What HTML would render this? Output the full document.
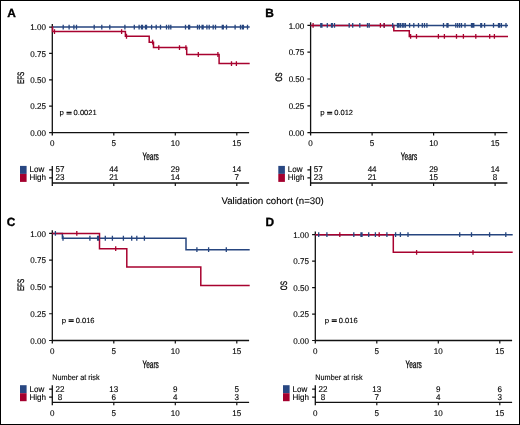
<!DOCTYPE html>
<html><head><meta charset="utf-8"><style>
html,body{margin:0;padding:0;background:#fff;}
body{width:520px;height:425px;overflow:hidden;}
svg{display:block;will-change:transform;}
text{text-rendering:geometricPrecision;font-family:"Liberation Sans", sans-serif;fill:#000;stroke:#000;stroke-width:0.12px;}
.lt{font-size:11.9px;font-weight:bold;fill:#000;stroke:#000;stroke-width:0.35px;}
</style></head><body>
<svg width="520" height="425" viewBox="0 0 520 425">
<rect x="0.5" y="0.5" width="519" height="424" fill="#fff" stroke="#000" stroke-width="1"/>
<path d="M52.3 23.95V135.6M51.699999999999996 132.6H249.10000000000002" stroke="#111" stroke-width="1.3" fill="none"/>
<path d="M49.099999999999994 132.60H52.3M49.099999999999994 106.21H52.3M49.099999999999994 79.82H52.3M49.099999999999994 53.44H52.3M49.099999999999994 27.05H52.3M113.80 132.6V135.6M175.30 132.6V135.6M236.80 132.6V135.6" stroke="#111" stroke-width="1.2" fill="none"/>
<text transform="translate(46.00,135.70) scale(0.97,1)" font-size="8.3" text-anchor="end">0.00</text>
<text transform="translate(46.00,109.31) scale(0.97,1)" font-size="8.3" text-anchor="end">0.25</text>
<text transform="translate(46.00,82.92) scale(0.97,1)" font-size="8.3" text-anchor="end">0.50</text>
<text transform="translate(46.00,56.54) scale(0.97,1)" font-size="8.3" text-anchor="end">0.75</text>
<text transform="translate(46.00,30.15) scale(0.97,1)" font-size="8.3" text-anchor="end">1.00</text>
<text transform="translate(52.30,145.80) scale(0.97,1)" font-size="8.3" text-anchor="middle">0</text>
<text transform="translate(113.80,145.80) scale(0.97,1)" font-size="8.3" text-anchor="middle">5</text>
<text transform="translate(175.30,145.80) scale(0.97,1)" font-size="8.3" text-anchor="middle">10</text>
<text transform="translate(236.80,145.80) scale(0.97,1)" font-size="8.3" text-anchor="middle">15</text>
<text transform="translate(150.70,159.60) scale(0.6,1)" font-size="10.8" text-anchor="middle" style="stroke-width:0.3px">Years</text>
<text transform="translate(24.10,77.83) rotate(-90) scale(0.68,1)" text-anchor="middle" font-size="9.3" style="stroke-width:0.3px">EFS</text>
<text x="7.2" y="17.4" class="lt">A</text>
<text transform="translate(59.60,115.40) scale(1.07,1)" font-size="7.4">p</text>
<path d="M66.50 112.35H71.60M66.50 113.95H71.60" stroke="#111" stroke-width="1.05" fill="none"/>
<text transform="translate(73.60,115.40) scale(1.02,1)" font-size="7.4">0.0021</text>
<path d="M52.3 27.05H249.70" stroke="#26457f" stroke-width="1.5" fill="none"/>
<path d="M52.3 27.05H52.60V31.62H125.40V36.23H149.20V42.14H153.50V47.53H186.70V54.49H219.10V63.57H249.70" stroke="#a8022f" stroke-width="1.5" fill="none"/>
<path d="M63.20 24.65v4.8M69.10 24.65v4.8M73.90 24.65v4.8M76.50 24.65v4.8M94.20 24.65v4.8M101.80 24.65v4.8M109.80 24.65v4.8M124.90 24.65v4.8M134.30 24.65v4.8M139.10 24.65v4.8M141.50 24.65v4.8M142.50 24.65v4.8M145.50 24.65v4.8M146.50 24.65v4.8M151.60 24.65v4.8M156.20 24.65v4.8M160.50 24.65v4.8M166.50 24.65v4.8M168.80 24.65v4.8M170.80 24.65v4.8M185.50 24.65v4.8M188.60 24.65v4.8M189.60 24.65v4.8M197.50 24.65v4.8M199.40 24.65v4.8M202.10 24.65v4.8M203.10 24.65v4.8M206.90 24.65v4.8M209.20 24.65v4.8M213.20 24.65v4.8M215.50 24.65v4.8M222.30 24.65v4.8M223.30 24.65v4.8M226.50 24.65v4.8M235.10 24.65v4.8M240.50 24.65v4.8M242.40 24.65v4.8M243.40 24.65v4.8M247.50 24.65v4.8" stroke="#26457f" stroke-width="1.3" fill="none"/>
<path d="M54.50 29.22v4.8M121.60 29.22v4.8M126.50 33.83v4.8M152.60 39.74v4.8M158.80 45.13v4.8M179.50 45.13v4.8M185.90 45.13v4.8M198.30 52.09v4.8M217.90 52.09v4.8M231.50 61.17v4.8M236.40 61.17v4.8" stroke="#a8022f" stroke-width="1.3" fill="none"/>
<path d="M52.3 166.0V186.0M51.699999999999996 183.0H249.10" stroke="#111" stroke-width="1.3" fill="none"/>
<path d="M49.099999999999994 169.8H52.3M49.099999999999994 177.9H52.3M113.80 183.0V186.0M175.30 183.0V186.0M236.80 183.0V186.0" stroke="#111" stroke-width="1.2" fill="none"/>
<rect x="20.00" y="165.90" width="6.6" height="8" fill="#284782"/>
<rect x="20.00" y="173.90" width="6.6" height="8" fill="#a4002e"/>
<text transform="translate(29.50,172.30) scale(0.97,1)" font-size="8.3">Low</text>
<text transform="translate(29.50,180.20) scale(0.97,1)" font-size="8.3">High</text>
<text transform="translate(60.00,172.30) scale(0.97,1)" font-size="8.3" text-anchor="middle">57</text>
<text transform="translate(60.00,180.20) scale(0.97,1)" font-size="8.3" text-anchor="middle">23</text>
<text transform="translate(113.80,172.30) scale(0.97,1)" font-size="8.3" text-anchor="middle">44</text>
<text transform="translate(113.80,180.20) scale(0.97,1)" font-size="8.3" text-anchor="middle">21</text>
<text transform="translate(175.30,172.30) scale(0.97,1)" font-size="8.3" text-anchor="middle">29</text>
<text transform="translate(175.30,180.20) scale(0.97,1)" font-size="8.3" text-anchor="middle">14</text>
<text transform="translate(236.80,172.30) scale(0.97,1)" font-size="8.3" text-anchor="middle">14</text>
<text transform="translate(236.80,180.20) scale(0.97,1)" font-size="8.3" text-anchor="middle">7</text>
<path d="M310.6 22.299999999999997V135.6M310.0 132.6H507.40000000000003" stroke="#111" stroke-width="1.3" fill="none"/>
<path d="M307.40000000000003 132.60H310.6M307.40000000000003 105.80H310.6M307.40000000000003 79.00H310.6M307.40000000000003 52.20H310.6M307.40000000000003 25.40H310.6M372.10 132.6V135.6M433.60 132.6V135.6M495.10 132.6V135.6" stroke="#111" stroke-width="1.2" fill="none"/>
<text transform="translate(304.30,135.70) scale(0.97,1)" font-size="8.3" text-anchor="end">0.00</text>
<text transform="translate(304.30,108.90) scale(0.97,1)" font-size="8.3" text-anchor="end">0.25</text>
<text transform="translate(304.30,82.10) scale(0.97,1)" font-size="8.3" text-anchor="end">0.50</text>
<text transform="translate(304.30,55.30) scale(0.97,1)" font-size="8.3" text-anchor="end">0.75</text>
<text transform="translate(304.30,28.50) scale(0.97,1)" font-size="8.3" text-anchor="end">1.00</text>
<text transform="translate(310.60,145.80) scale(0.97,1)" font-size="8.3" text-anchor="middle">0</text>
<text transform="translate(372.10,145.80) scale(0.97,1)" font-size="8.3" text-anchor="middle">5</text>
<text transform="translate(433.60,145.80) scale(0.97,1)" font-size="8.3" text-anchor="middle">10</text>
<text transform="translate(495.10,145.80) scale(0.97,1)" font-size="8.3" text-anchor="middle">15</text>
<text transform="translate(409.00,159.60) scale(0.6,1)" font-size="10.8" text-anchor="middle" style="stroke-width:0.3px">Years</text>
<text transform="translate(282.40,77.00) rotate(-90) scale(0.68,1)" text-anchor="middle" font-size="9.3" style="stroke-width:0.3px">OS</text>
<text x="265.3" y="17.2" class="lt">B</text>
<text transform="translate(320.20,115.40) scale(1.07,1)" font-size="7.4">p</text>
<path d="M327.10 112.35H332.20M327.10 113.95H332.20" stroke="#111" stroke-width="1.05" fill="none"/>
<text transform="translate(334.20,115.40) scale(1.02,1)" font-size="7.4">0.012</text>
<path d="M310.6 25.40H508.00" stroke="#26457f" stroke-width="1.5" fill="none"/>
<path d="M310.6 25.40H393.80V30.65H409.30V36.44H508.00" stroke="#a8022f" stroke-width="1.5" fill="none"/>
<path d="M320.80 23.00v4.8M321.90 23.00v4.8M327.30 23.00v4.8M331.50 23.00v4.8M332.30 23.00v4.8M334.50 23.00v4.8M349.20 23.00v4.8M352.70 23.00v4.8M359.80 23.00v4.8M367.50 23.00v4.8M369.20 23.00v4.8M384.20 23.00v4.8M392.70 23.00v4.8M397.50 23.00v4.8M398.80 23.00v4.8M400.40 23.00v4.8M402.30 23.00v4.8M403.80 23.00v4.8M405.40 23.00v4.8M409.60 23.00v4.8M413.80 23.00v4.8M418.50 23.00v4.8M422.30 23.00v4.8M424.50 23.00v4.8M426.90 23.00v4.8M443.50 23.00v4.8M447.00 23.00v4.8M448.00 23.00v4.8M455.80 23.00v4.8M457.70 23.00v4.8M459.60 23.00v4.8M461.50 23.00v4.8M465.00 23.00v4.8M471.50 23.00v4.8M472.70 23.00v4.8M473.80 23.00v4.8M480.80 23.00v4.8M481.60 23.00v4.8M484.60 23.00v4.8M493.50 23.00v4.8M498.50 23.00v4.8M499.60 23.00v4.8M501.40 23.00v4.8M506.00 23.00v4.8" stroke="#26457f" stroke-width="1.3" fill="none"/>
<path d="M313.10 23.00v4.8M380.40 23.00v4.8M384.20 23.00v4.8M410.60 34.04v4.8M416.50 34.04v4.8M438.40 34.04v4.8M444.40 34.04v4.8M456.50 34.04v4.8M463.40 34.04v4.8M475.80 34.04v4.8M489.70 34.04v4.8M494.40 34.04v4.8" stroke="#a8022f" stroke-width="1.3" fill="none"/>
<path d="M310.6 166.0V186.0M310.0 183.0H507.40" stroke="#111" stroke-width="1.3" fill="none"/>
<path d="M307.40000000000003 169.8H310.6M307.40000000000003 177.9H310.6M372.10 183.0V186.0M433.60 183.0V186.0M495.10 183.0V186.0" stroke="#111" stroke-width="1.2" fill="none"/>
<rect x="278.30" y="165.90" width="6.6" height="8" fill="#284782"/>
<rect x="278.30" y="173.90" width="6.6" height="8" fill="#a4002e"/>
<text transform="translate(287.80,172.30) scale(0.97,1)" font-size="8.3">Low</text>
<text transform="translate(287.80,180.20) scale(0.97,1)" font-size="8.3">High</text>
<text transform="translate(318.30,172.30) scale(0.97,1)" font-size="8.3" text-anchor="middle">57</text>
<text transform="translate(318.30,180.20) scale(0.97,1)" font-size="8.3" text-anchor="middle">23</text>
<text transform="translate(372.10,172.30) scale(0.97,1)" font-size="8.3" text-anchor="middle">44</text>
<text transform="translate(372.10,180.20) scale(0.97,1)" font-size="8.3" text-anchor="middle">21</text>
<text transform="translate(433.60,172.30) scale(0.97,1)" font-size="8.3" text-anchor="middle">29</text>
<text transform="translate(433.60,180.20) scale(0.97,1)" font-size="8.3" text-anchor="middle">15</text>
<text transform="translate(495.10,172.30) scale(0.97,1)" font-size="8.3" text-anchor="middle">14</text>
<text transform="translate(495.10,180.20) scale(0.97,1)" font-size="8.3" text-anchor="middle">8</text>
<path d="M52.3 230.3V343.5M51.699999999999996 340.5H249.10000000000002" stroke="#111" stroke-width="1.3" fill="none"/>
<path d="M49.099999999999994 340.50H52.3M49.099999999999994 313.73H52.3M49.099999999999994 286.95H52.3M49.099999999999994 260.18H52.3M49.099999999999994 233.40H52.3M113.80 340.5V343.5M175.30 340.5V343.5M236.80 340.5V343.5" stroke="#111" stroke-width="1.2" fill="none"/>
<text transform="translate(46.00,343.60) scale(0.97,1)" font-size="8.3" text-anchor="end">0.00</text>
<text transform="translate(46.00,316.83) scale(0.97,1)" font-size="8.3" text-anchor="end">0.25</text>
<text transform="translate(46.00,290.05) scale(0.97,1)" font-size="8.3" text-anchor="end">0.50</text>
<text transform="translate(46.00,263.28) scale(0.97,1)" font-size="8.3" text-anchor="end">0.75</text>
<text transform="translate(46.00,236.50) scale(0.97,1)" font-size="8.3" text-anchor="end">1.00</text>
<text transform="translate(52.30,353.70) scale(0.97,1)" font-size="8.3" text-anchor="middle">0</text>
<text transform="translate(113.80,353.70) scale(0.97,1)" font-size="8.3" text-anchor="middle">5</text>
<text transform="translate(175.30,353.70) scale(0.97,1)" font-size="8.3" text-anchor="middle">10</text>
<text transform="translate(236.80,353.70) scale(0.97,1)" font-size="8.3" text-anchor="middle">15</text>
<text transform="translate(150.70,367.50) scale(0.6,1)" font-size="10.8" text-anchor="middle" style="stroke-width:0.3px">Years</text>
<text transform="translate(24.10,284.95) rotate(-90) scale(0.68,1)" text-anchor="middle" font-size="9.3" style="stroke-width:0.3px">EFS</text>
<text x="6.8" y="226.3" class="lt">C</text>
<text transform="translate(61.70,322.90) scale(1.07,1)" font-size="7.4">p</text>
<path d="M68.60 319.85H73.70M68.60 321.45H73.70" stroke="#111" stroke-width="1.05" fill="none"/>
<text transform="translate(75.70,322.90) scale(1.02,1)" font-size="7.4">0.016</text>
<path d="M52.3 233.40H62.40V238.27H186.00V249.63H249.70" stroke="#26457f" stroke-width="1.5" fill="none"/>
<path d="M52.3 233.40H99.50V248.72H126.80V267.03H200.80V285.45H249.70" stroke="#a8022f" stroke-width="1.5" fill="none"/>
<path d="M55.40 231.00v4.8M63.00 235.87v4.8M89.90 235.87v4.8M97.60 235.87v4.8M98.60 235.87v4.8M105.30 235.87v4.8M112.40 235.87v4.8M123.40 235.87v4.8M131.70 235.87v4.8M136.80 235.87v4.8M144.40 235.87v4.8M196.90 247.23v4.8M208.60 247.23v4.8M226.30 247.23v4.8" stroke="#26457f" stroke-width="1.3" fill="none"/>
<path d="M76.80 231.00v4.8M115.70 246.32v4.8" stroke="#a8022f" stroke-width="1.3" fill="none"/>
<path d="M52.3 385.3V405.3M51.699999999999996 402.3H249.10" stroke="#111" stroke-width="1.3" fill="none"/>
<path d="M49.099999999999994 389.1H52.3M49.099999999999994 397.2H52.3M113.80 402.3V405.3M175.30 402.3V405.3M236.80 402.3V405.3" stroke="#111" stroke-width="1.2" fill="none"/>
<rect x="20.00" y="385.20" width="6.6" height="8" fill="#284782"/>
<rect x="20.00" y="393.20" width="6.6" height="8" fill="#a4002e"/>
<text transform="translate(29.50,391.60) scale(0.97,1)" font-size="8.3">Low</text>
<text transform="translate(29.50,399.50) scale(0.97,1)" font-size="8.3">High</text>
<text transform="translate(60.00,391.60) scale(0.97,1)" font-size="8.3" text-anchor="middle">22</text>
<text transform="translate(60.00,399.50) scale(0.97,1)" font-size="8.3" text-anchor="middle">8</text>
<text transform="translate(113.80,391.60) scale(0.97,1)" font-size="8.3" text-anchor="middle">13</text>
<text transform="translate(113.80,399.50) scale(0.97,1)" font-size="8.3" text-anchor="middle">6</text>
<text transform="translate(175.30,391.60) scale(0.97,1)" font-size="8.3" text-anchor="middle">9</text>
<text transform="translate(175.30,399.50) scale(0.97,1)" font-size="8.3" text-anchor="middle">4</text>
<text transform="translate(236.80,391.60) scale(0.97,1)" font-size="8.3" text-anchor="middle">5</text>
<text transform="translate(236.80,399.50) scale(0.97,1)" font-size="8.3" text-anchor="middle">3</text>
<text transform="translate(52.30,415.50) scale(0.97,1)" font-size="8.3" text-anchor="middle">0</text>
<text transform="translate(113.80,415.50) scale(0.97,1)" font-size="8.3" text-anchor="middle">5</text>
<text transform="translate(175.30,415.50) scale(0.97,1)" font-size="8.3" text-anchor="middle">10</text>
<text transform="translate(236.80,415.50) scale(0.97,1)" font-size="8.3" text-anchor="middle">15</text>
<text transform="translate(52.30,380.10) scale(0.91,1)" font-size="8.0">Number at risk</text>
<path d="M315.3 231.6V343.5M314.7 340.5H512.1" stroke="#111" stroke-width="1.3" fill="none"/>
<path d="M312.1 340.50H315.3M312.1 314.05H315.3M312.1 287.60H315.3M312.1 261.15H315.3M312.1 234.70H315.3M376.80 340.5V343.5M438.30 340.5V343.5M499.80 340.5V343.5" stroke="#111" stroke-width="1.2" fill="none"/>
<text transform="translate(309.00,343.60) scale(0.97,1)" font-size="8.3" text-anchor="end">0.00</text>
<text transform="translate(309.00,317.15) scale(0.97,1)" font-size="8.3" text-anchor="end">0.25</text>
<text transform="translate(309.00,290.70) scale(0.97,1)" font-size="8.3" text-anchor="end">0.50</text>
<text transform="translate(309.00,264.25) scale(0.97,1)" font-size="8.3" text-anchor="end">0.75</text>
<text transform="translate(309.00,237.80) scale(0.97,1)" font-size="8.3" text-anchor="end">1.00</text>
<text transform="translate(315.30,353.70) scale(0.97,1)" font-size="8.3" text-anchor="middle">0</text>
<text transform="translate(376.80,353.70) scale(0.97,1)" font-size="8.3" text-anchor="middle">5</text>
<text transform="translate(438.30,353.70) scale(0.97,1)" font-size="8.3" text-anchor="middle">10</text>
<text transform="translate(499.80,353.70) scale(0.97,1)" font-size="8.3" text-anchor="middle">15</text>
<text transform="translate(413.70,367.50) scale(0.6,1)" font-size="10.8" text-anchor="middle" style="stroke-width:0.3px">Years</text>
<text transform="translate(287.10,285.60) rotate(-90) scale(0.68,1)" text-anchor="middle" font-size="9.3" style="stroke-width:0.3px">OS</text>
<text x="265.6" y="226.2" class="lt">D</text>
<text transform="translate(324.80,322.90) scale(1.07,1)" font-size="7.4">p</text>
<path d="M331.70 319.85H336.80M331.70 321.45H336.80" stroke="#111" stroke-width="1.05" fill="none"/>
<text transform="translate(338.80,322.90) scale(1.02,1)" font-size="7.4">0.016</text>
<path d="M315.3 234.70H512.70" stroke="#26457f" stroke-width="1.5" fill="none"/>
<path d="M315.3 234.70H393.30V252.37H512.70" stroke="#a8022f" stroke-width="1.5" fill="none"/>
<path d="M318.70 232.30v4.8M326.90 232.30v4.8M353.80 232.30v4.8M361.00 232.30v4.8M362.00 232.30v4.8M368.70 232.30v4.8M375.40 232.30v4.8M386.90 232.30v4.8M395.60 232.30v4.8M400.40 232.30v4.8M408.00 232.30v4.8M459.70 232.30v4.8M471.50 232.30v4.8M489.60 232.30v4.8M505.80 232.30v4.8" stroke="#26457f" stroke-width="1.3" fill="none"/>
<path d="M339.80 232.30v4.8M379.20 232.30v4.8M416.60 249.97v4.8M473.00 249.97v4.8" stroke="#a8022f" stroke-width="1.3" fill="none"/>
<path d="M315.3 385.3V405.3M314.7 402.3H512.10" stroke="#111" stroke-width="1.3" fill="none"/>
<path d="M312.1 389.1H315.3M312.1 397.2H315.3M376.80 402.3V405.3M438.30 402.3V405.3M499.80 402.3V405.3" stroke="#111" stroke-width="1.2" fill="none"/>
<rect x="283.00" y="385.20" width="6.6" height="8" fill="#284782"/>
<rect x="283.00" y="393.20" width="6.6" height="8" fill="#a4002e"/>
<text transform="translate(292.50,391.60) scale(0.97,1)" font-size="8.3">Low</text>
<text transform="translate(292.50,399.50) scale(0.97,1)" font-size="8.3">High</text>
<text transform="translate(323.00,391.60) scale(0.97,1)" font-size="8.3" text-anchor="middle">22</text>
<text transform="translate(323.00,399.50) scale(0.97,1)" font-size="8.3" text-anchor="middle">8</text>
<text transform="translate(376.80,391.60) scale(0.97,1)" font-size="8.3" text-anchor="middle">13</text>
<text transform="translate(376.80,399.50) scale(0.97,1)" font-size="8.3" text-anchor="middle">7</text>
<text transform="translate(438.30,391.60) scale(0.97,1)" font-size="8.3" text-anchor="middle">9</text>
<text transform="translate(438.30,399.50) scale(0.97,1)" font-size="8.3" text-anchor="middle">4</text>
<text transform="translate(499.80,391.60) scale(0.97,1)" font-size="8.3" text-anchor="middle">6</text>
<text transform="translate(499.80,399.50) scale(0.97,1)" font-size="8.3" text-anchor="middle">3</text>
<text transform="translate(315.30,415.50) scale(0.97,1)" font-size="8.3" text-anchor="middle">0</text>
<text transform="translate(376.80,415.50) scale(0.97,1)" font-size="8.3" text-anchor="middle">5</text>
<text transform="translate(438.30,415.50) scale(0.97,1)" font-size="8.3" text-anchor="middle">10</text>
<text transform="translate(499.80,415.50) scale(0.97,1)" font-size="8.3" text-anchor="middle">15</text>
<text transform="translate(315.30,380.10) scale(0.91,1)" font-size="8.0">Number at risk</text>
<text transform="translate(221.40,203.90) scale(1.01,1)" font-size="9.6">Validation cohort (n=30)</text>
</svg>
</body></html>
